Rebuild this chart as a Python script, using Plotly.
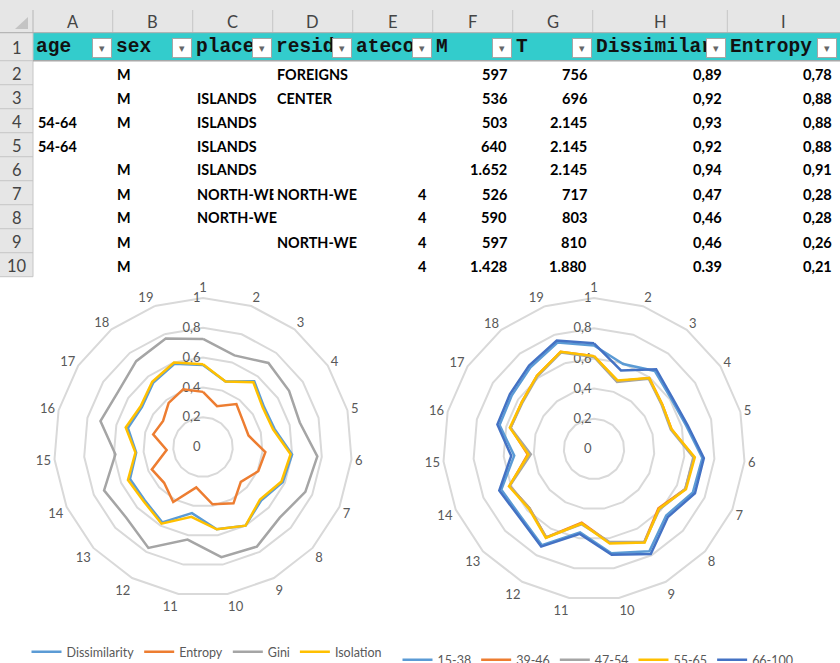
import plotly.graph_objects as go

W, H = 840, 663

# ---- spreadsheet part ----
col_letters = ["A", "B", "C", "D", "E", "F", "G", "H", "I"]
col_edges = [33, 112.7, 192.7, 272.7, 352.7, 432.7, 512.7, 592.7, 727.3, 840]
header_names = ["age", "sex", "place", "resid", "ateco", "M", "T", "Dissimilar", "Entropy"]
row_numbers = ["1", "2", "3", "4", "5", "6", "7", "8", "9", "10"]

age = ["", "", "54-64", "54-64", "", "", "", "", ""]
sex = ["M", "M", "M", "", "M", "M", "M", "M", "M"]
place = ["", "ISLANDS", "ISLANDS", "ISLANDS", "ISLANDS", "NORTH-WE", "NORTH-WE", "", ""]
resid = ["FOREIGNS", "CENTER", "", "", "", "NORTH-WE", "", "NORTH-WE", ""]
ateco = ["", "", "", "", "", "4", "4", "4", "4"]
m_vals = ["597", "536", "503", "640", "1.652", "526", "590", "597", "1.428"]
t_vals = ["756", "696", "2.145", "2.145", "2.145", "717", "803", "810", "1.880"]
dissim_vals = ["0,89", "0,92", "0,93", "0,92", "0,94", "0,47", "0,46", "0,46", "0.39"]
entropy_vals = ["0,78", "0,88", "0,88", "0,88", "0,91", "0,28", "0,28", "0,26", "0,21"]

# ---- radar charts ----
cats = [str(i) for i in range(1, 20)]

dissimilarity = [0.55, 0.465, 0.56, 0.49, 0.495, 0.60, 0.585, 0.53, 0.60, 0.56,
                 0.45, 0.575, 0.53, 0.535, 0.45, 0.52, 0.49, 0.545, 0.59]
entropy = [0.37, 0.29, 0.365, 0.32, 0.315, 0.42, 0.405, 0.345, 0.43, 0.39,
           0.275, 0.42, 0.355, 0.375, 0.245, 0.345, 0.32, 0.375, 0.41]
gini = [0.725, 0.65, 0.715, 0.69, 0.67, 0.77, 0.75, 0.70, 0.76, 0.75,
        0.63, 0.77, 0.70, 0.725, 0.59, 0.71, 0.68, 0.73, 0.77]
isolation = [0.555, 0.465, 0.55, 0.48, 0.485, 0.59, 0.575, 0.52, 0.60, 0.56,
             0.475, 0.585, 0.54, 0.55, 0.455, 0.535, 0.50, 0.555, 0.60]

age_15_38 = [0.685, 0.595, 0.655, 0.61, 0.63, 0.72, 0.715, 0.65, 0.77, 0.70,
             0.56, 0.725, 0.66, 0.67, 0.53, 0.645, 0.65, 0.685, 0.745]
age_39_46 = [0.615, 0.475, 0.595, 0.54, 0.53, 0.665, 0.66, 0.58, 0.70, 0.63,
             0.495, 0.665, 0.58, 0.61, 0.44, 0.57, 0.57, 0.615, 0.68]
age_47_54 = [0.61, 0.47, 0.59, 0.535, 0.525, 0.66, 0.66, 0.59, 0.70, 0.625,
             0.505, 0.665, 0.58, 0.61, 0.42, 0.57, 0.565, 0.61, 0.675]
age_55_65 = [0.615, 0.48, 0.595, 0.54, 0.53, 0.67, 0.665, 0.585, 0.705, 0.635,
             0.50, 0.67, 0.585, 0.615, 0.435, 0.575, 0.57, 0.615, 0.68]
age_66_100 = [0.70, 0.55, 0.67, 0.62, 0.64, 0.73, 0.73, 0.665, 0.79, 0.71,
              0.57, 0.735, 0.67, 0.685, 0.55, 0.66, 0.665, 0.70, 0.76]

left_series = [("Dissimilarity", dissimilarity, "#5B9BD5"),
               ("Entropy", entropy, "#ED7D31"),
               ("Gini", gini, "#A5A5A5"),
               ("Isolation", isolation, "#FFC000")]
right_series = [("15-38", age_15_38, "#5B9BD5"),
                ("39-46", age_39_46, "#ED7D31"),
                ("47-54", age_47_54, "#A5A5A5"),
                ("55-65", age_55_65, "#FFC000"),
                ("66-100", age_66_100, "#4472C4")]


def X(p):
    return p / W


def Y(p):
    return 1 - p / H


def label(x, y, text, xa="center", ya="middle", **font):
    return dict(x=X(x), y=Y(y), text=text, showarrow=False, xref="paper", yref="paper",
                xanchor=xa, yanchor=ya, font=font)


fig = go.Figure()

for name, vals, color in left_series:
    fig.add_trace(go.Scatterpolar(r=vals + vals[:1], theta=cats + cats[:1], mode="lines",
                                  name=name, line=dict(color=color, width=2.5),
                                  subplot="polar", legend="legend"))
for name, vals, color in right_series:
    fig.add_trace(go.Scatterpolar(r=vals + vals[:1], theta=cats + cats[:1], mode="lines",
                                  name=name, line=dict(color=color, width=2.5),
                                  subplot="polar2", legend="legend2"))

shapes = []
ann = []
HDR_BG = "#E6E6E6"
LINE = "#C6C6C6"
TEAL = "#33CCCC"

row_edges = [32.7, 60.7] + [60.7 + 24 * i for i in range(1, 10)]


def rect(x0, y0, x1, y1, fill):
    return dict(type="rect", xref="paper", yref="paper", x0=X(x0), x1=X(x1), y0=Y(y0), y1=Y(y1),
                fillcolor=fill, line_width=0, layer="below")


def hline(x0, x1, y, color=LINE, width=1):
    return dict(type="line", xref="paper", yref="paper", x0=X(x0), x1=X(x1), y0=Y(y), y1=Y(y),
                line=dict(color=color, width=width))


def vline(x, y0, y1, color=LINE, width=1):
    return dict(type="line", xref="paper", yref="paper", x0=X(x), x1=X(x), y0=Y(y0), y1=Y(y1),
                line=dict(color=color, width=width))


shapes.append(rect(0, 0, W, 32.7, HDR_BG))
shapes.append(rect(0, 32.7, 33, row_edges[-1], HDR_BG))
shapes.append(rect(33, 32.7, W, 60.7, TEAL))
shapes.append(dict(type="path", xref="paper", yref="paper",
                   path=f"M {X(28)},{Y(17)} L {X(28)},{Y(29)} L {X(15)},{Y(29)} Z",
                   fillcolor="#C4C4C4", line_width=0, layer="below"))
for e in col_edges[:-1]:
    shapes.append(vline(e, 10, 32.7))
shapes.append(vline(33, 10, row_edges[-1]))
shapes.append(hline(0, W, 32.7, "#ABABAB"))
shapes.append(hline(33, W, 60.7, "#A8A8A8", 1.5))
for e in row_edges[1:]:
    shapes.append(hline(0, 33, e))

# column letters
for i, letter in enumerate(col_letters):
    cx = (col_edges[i] + col_edges[i + 1]) / 2 if i < 8 else 783
    ann.append(label(cx, 22, letter, family="Lato", size=16.5, color="#444444"))
# row numbers
for j, num in enumerate(row_numbers):
    cy = (row_edges[j] + row_edges[j + 1]) / 2 + 1
    ann.append(label(16.5, cy, num, family="Lato", size=16.5, color="#444444"))

# header names
for i, name in enumerate(header_names):
    ann.append(label(col_edges[i] + 1, 47, name, xa="left",
                     family="Liberation Mono", size=19.5, color="#111111", weight="bold"))
# dropdown buttons (drawn over the header text)
for i in range(9):
    right = col_edges[i + 1] - 1 if i < 8 else 837
    btn = label(right - 10, 48.3, "▾", family="DejaVu Sans", size=11, color="#666666")
    btn.update(width=16, height=16, bgcolor="white", bordercolor="#A6A6A6", borderwidth=1, borderpad=1)
    ann.append(btn)

# cell values (white box starting at the cell edge hides overflow from the cell to its left)
text_cols = [age, sex, place, resid]
num_cols = [ateco, m_vals, t_vals, dissim_vals, entropy_vals]
for k in range(9):
    cy = 74 + 24 * k
    for i, col in enumerate(text_cols):
        if col[k]:
            a = label(col_edges[i] + 0.5, cy, col[k], xa="left",
                      family="Lato", size=14.4, color="#000000", weight="bold")
            a.update(bgcolor="white", borderpad=3)
            ann.append(a)
    for i, col in enumerate(num_cols):
        right = col_edges[i + 5] - 3.5 if i < 4 else 834
        if col[k]:
            ann.append(label(right, cy, col[k], xa="right",
                             family="Lato", size=14.6, color="#000000", weight="bold"))

tickfont = dict(family="Lato", size=13, color="#595959")


def polar_cfg(cx, cy, R):
    return dict(
        domain=dict(x=[X(cx - R), X(cx + R)], y=[Y(cy + R), Y(cy - R)]),
        bgcolor="rgba(0,0,0,0)",
        gridshape="linear",
        radialaxis=dict(range=[0, 1], tick0=0, dtick=0.2, angle=90, tickangle=90,
                        side="counterclockwise", showline=False, ticks="",
                        gridcolor="#D9D9D9", gridwidth=2, tickfont=tickfont, layer="below traces"),
        angularaxis=dict(type="category", categoryarray=cats, direction="clockwise", rotation=90,
                         showgrid=False, linecolor="#D9D9D9", linewidth=2, ticks="",
                         tickfont=tickfont, layer="below traces"),
    )


legend_font = dict(family="Lato", size=12.5, color="#595959")

fig.update_layout(
    width=W, height=H,
    margin=dict(l=0, r=0, t=0, b=0, autoexpand=False),
    paper_bgcolor="white",
    plot_bgcolor="white",
    separators=",.",
    polar=polar_cfg(203, 447, 149),
    polar2=polar_cfg(594, 449, 151),
    legend=dict(orientation="h", x=X(207), y=Y(652), xanchor="center", yanchor="middle",
                bgcolor="rgba(0,0,0,0)", font=legend_font),
    legend2=dict(orientation="h", x=X(598), y=Y(660), xanchor="center", yanchor="middle",
                 bgcolor="rgba(0,0,0,0)", font=legend_font),
    shapes=shapes,
    annotations=ann,
)

# page body has a default 8px margin; drop it so the figure sits at the window corner
fig.write_html("out.html", config={"displayModeBar": False},
               post_script="document.body.style.margin='0px';")
